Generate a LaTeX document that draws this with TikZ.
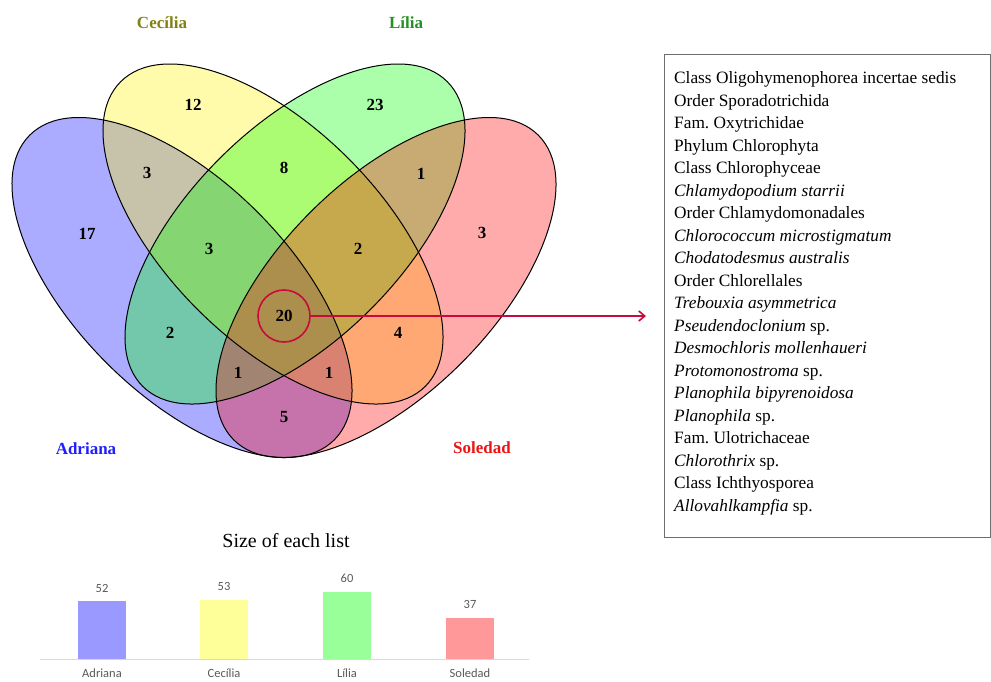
\documentclass[tikz,border=0pt]{standalone}
\usepackage{fontspec}
\setmainfont{Liberation Serif}
\newfontfamily\barfont{Carlito}
\usetikzlibrary{arrows.meta}
\frenchspacing
\definecolor{cecl}{RGB}{130,130,20}
\definecolor{lill}{RGB}{35,145,35}
\definecolor{adrl}{RGB}{30,30,255}
\definecolor{soll}{RGB}{235,20,20}
\definecolor{crim}{RGB}{200,10,60}
\definecolor{boxgray}{RGB}{110,110,110}
\definecolor{axisgray}{RGB}{217,217,217}
\definecolor{bargray}{RGB}{89,89,89}
\definecolor{barA}{RGB}{153,153,255}
\definecolor{barC}{RGB}{255,255,153}
\definecolor{barL}{RGB}{153,255,153}
\definecolor{barS}{RGB}{255,153,153}
\begin{document}
\begin{tikzpicture}[x=1pt,y=-1pt,
  num/.style={font=\fontsize{17}{17}\selectfont\bfseries, inner sep=0pt},
  setname/.style={font=\fontsize{17}{17}\selectfont\bfseries, anchor=base, inner sep=0pt},
  txtline/.style={anchor=base west, inner sep=0pt, font=\fontsize{17.3}{17.3}\selectfont},
  barval/.style={anchor=base, inner sep=0pt, font=\barfont\fontsize{12.5}{12.5}\selectfont, text=bargray},
  vfill/.style={fill opacity=0.33},
  vline/.style={draw=black, line width=1pt}
]
\useasboundingbox (0,0) rectangle (991,681);

% Venn fills
\fill[blue, vfill, shift={(182,287.5)}, rotate=-45] (0,0) ellipse [x radius=215.4pt, y radius=106.7pt];
\fill[yellow, vfill, shift={(273,234)}, rotate=-45] (0,0) ellipse [x radius=215.4pt, y radius=106.7pt];
\fill[green, vfill, shift={(295,234)}, rotate=45] (0,0) ellipse [x radius=215.4pt, y radius=106.7pt];
\fill[red, vfill, shift={(386,287.5)}, rotate=45] (0,0) ellipse [x radius=215.4pt, y radius=106.7pt];
% Venn outlines
\draw[vline, shift={(182,287.5)}, rotate=-45] (0,0) ellipse [x radius=215.4pt, y radius=106.7pt];
\draw[vline, shift={(273,234)}, rotate=-45] (0,0) ellipse [x radius=215.4pt, y radius=106.7pt];
\draw[vline, shift={(295,234)}, rotate=45] (0,0) ellipse [x radius=215.4pt, y radius=106.7pt];
\draw[vline, shift={(386,287.5)}, rotate=45] (0,0) ellipse [x radius=215.4pt, y radius=106.7pt];

% set names
\node[setname, text=cecl] (nC) at (162,28) {Cecília};
\node[setname, text=lill] (nL) at (406,28) {Lília};
\node[setname, text=adrl] (nA) at (86,454) {Adriana};
\node[setname, text=soll] (nS) at (482,453) {Soledad};

% region counts
\node[num] (r12) at (193,105) {12};
\node[num] (r23) at (375,105) {23};
\node[num] (rAC) at (147,173) {3};
\node[num] (rCL) at (284,168) {8};
\node[num] (rLS) at (421,174) {1};
\node[num] (rA) at (87,234) {17};
\node[num] (rACL) at (209,249) {3};
\node[num] (rCLS) at (358,249) {2};
\node[num] (rS) at (482,233) {3};
\node[num] (rAL) at (170,333) {2};
\node[num] (rCS) at (398,333) {4};
\node[num] (rALS) at (238,373) {1};
\node[num] (rACS) at (329,373) {1};
\node[num] (rAS) at (284,417) {5};
\node[num, circle, draw=crim, line width=1.6pt, minimum size=52pt] (c20) at (284,316) {20};

% list box
\node[draw=boxgray, line width=1.2pt, anchor=north west, minimum width=326pt, minimum height=483pt, inner sep=0pt] (box) at (664,54) {};
\foreach \t [count=\i] in {
  {Class Oligohymenophorea incertae sedis},
  {Order Sporadotrichida},
  {Fam. Oxytrichidae},
  {Phylum Chlorophyta},
  {Class Chlorophyceae},
  {\textit{Chlamydopodium starrii}},
  {Order Chlamydomonadales},
  {\textit{Chlorococcum microstigmatum}},
  {\textit{Chodatodesmus australis}},
  {Order Chlorellales},
  {\textit{Trebouxia asymmetrica}},
  {\textit{Pseudendoclonium} sp.},
  {\textit{Desmochloris mollenhaueri}},
  {\textit{Protomonostroma} sp.},
  {\textit{Planophila bipyrenoidosa}},
  {\textit{Planophila} sp.},
  {Fam. Ulotrichaceae},
  {\textit{Chlorothrix} sp.},
  {Class Ichthyosporea},
  {\textit{Allovahlkampfia} sp.}}
{\node[txtline] (t\i) at (674,{83.5+22.5*(\i-1)}) {\t};}

% arrow
\coordinate (tip) at (646,316);
\draw[crim, line width=2.2pt, -{Straight Barb[length=6pt,width=10pt,line width=1.6pt]}] (c20.east) -- (tip);

% bar chart
\node[anchor=base, inner sep=0pt, font=\fontsize{20}{20}\selectfont] (title) at (286,547) {Size of each list};
\draw[axisgray, line width=1pt] (40,659) -- (529,659);
\fill[barA] (78,659) rectangle (126,601);
\fill[barC] (200,659) rectangle (248,600);
\fill[barL] (323,659) rectangle (371,592);
\fill[barS] (446,659) rectangle (494,618);
\node[barval] (vA) at (102,592) {52};
\node[barval] (vC) at (224,590) {53};
\node[barval] (vL) at (347,582) {60};
\node[barval] (vS) at (470,608) {37};
\node[barval] (xA) at (102,677) {Adriana};
\node[barval] (xC) at (224,677) {Cecília};
\node[barval] (xL) at (347,677) {Lília};
\node[barval] (xS) at (470,677) {Soledad};
\end{tikzpicture}
\end{document}
